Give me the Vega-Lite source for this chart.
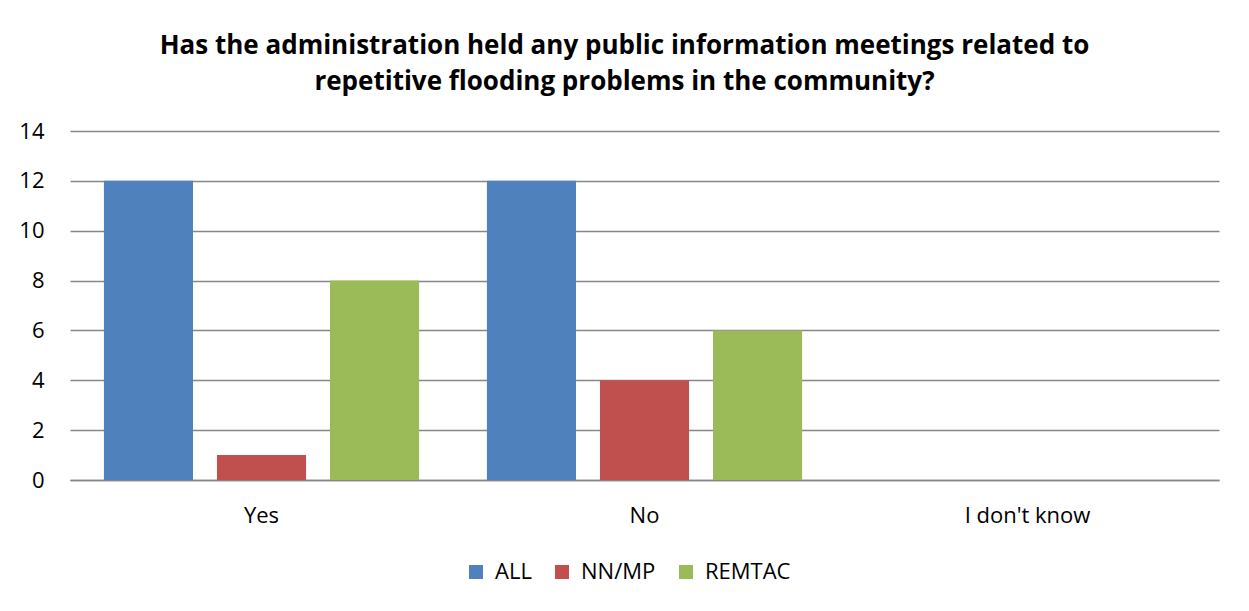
{
  "$schema": "https://vega.github.io/schema/vega-lite/v6.json",
  "width": 1149,
  "height": 349,
  "autosize": {"type": "none"},
  "padding": {"left": 70, "top": 131, "right": 30, "bottom": 131},
  "background": "white",
  "title": {
    "text": ["Has the administration held any public information meetings related to", "repetitive flooding problems in the community?"],
    "font": "Open Sans",
    "fontSize": 26,
    "fontWeight": "bold",
    "color": "#000000",
    "lineHeight": 36,
    "anchor": "middle",
    "dx": -20,
    "offset": 25
  },
  "data": {
    "values": [
      {"answer": "Yes", "group": "ALL", "count": 12},
      {"answer": "Yes", "group": "NN/MP", "count": 1},
      {"answer": "Yes", "group": "REMTAC", "count": 8},
      {"answer": "No", "group": "ALL", "count": 12},
      {"answer": "No", "group": "NN/MP", "count": 4},
      {"answer": "No", "group": "REMTAC", "count": 6},
      {"answer": "I don't know", "group": "ALL", "count": 0},
      {"answer": "I don't know", "group": "NN/MP", "count": 0},
      {"answer": "I don't know", "group": "REMTAC", "count": 0}
    ]
  },
  "mark": {"type": "bar"},
  "encoding": {
    "x": {
      "field": "answer",
      "type": "nominal",
      "sort": ["Yes", "No", "I don't know"],
      "scale": {"paddingInner": 0, "paddingOuter": 0},
      "axis": {
        "title": null,
        "labelAngle": 0,
        "labelFont": "Open Sans",
        "labelFontSize": 22,
        "labelColor": "#000000",
        "labelPadding": 25,
        "ticks": false,
        "domainColor": "#868686",
        "domainWidth": 1.5
      }
    },
    "xOffset": {
      "field": "group",
      "type": "nominal",
      "sort": ["ALL", "NN/MP", "REMTAC"],
      "scale": {"paddingInner": 0.212, "paddingOuter": 0.3}
    },
    "y": {
      "field": "count",
      "type": "quantitative",
      "scale": {"domain": [0, 14]},
      "axis": {
        "title": null,
        "values": [0, 2, 4, 6, 8, 10, 12, 14],
        "labelFont": "Open Sans",
        "labelFontSize": 22,
        "labelColor": "#000000",
        "labelPadding": 26,
        "ticks": false,
        "domain": false,
        "gridColor": "#868686",
        "gridWidth": 1.5
      }
    },
    "color": {
      "field": "group",
      "type": "nominal",
      "sort": ["ALL", "NN/MP", "REMTAC"],
      "scale": {"domain": ["ALL", "NN/MP", "REMTAC"], "range": ["#4F81BD", "#C0504D", "#9BBB59"]},
      "legend": {
        "title": null,
        "orient": "none",
        "direction": "horizontal",
        "legendX": 395,
        "legendY": 430,
        "symbolType": "square",
        "symbolSize": 196,
        "symbolStrokeWidth": 0,
        "labelFont": "Open Sans",
        "labelFontSize": 22,
        "labelColor": "#000000",
        "labelOffset": 8,
        "columnPadding": 19
      }
    }
  },
  "config": {
    "view": {"stroke": null}
  }
}
